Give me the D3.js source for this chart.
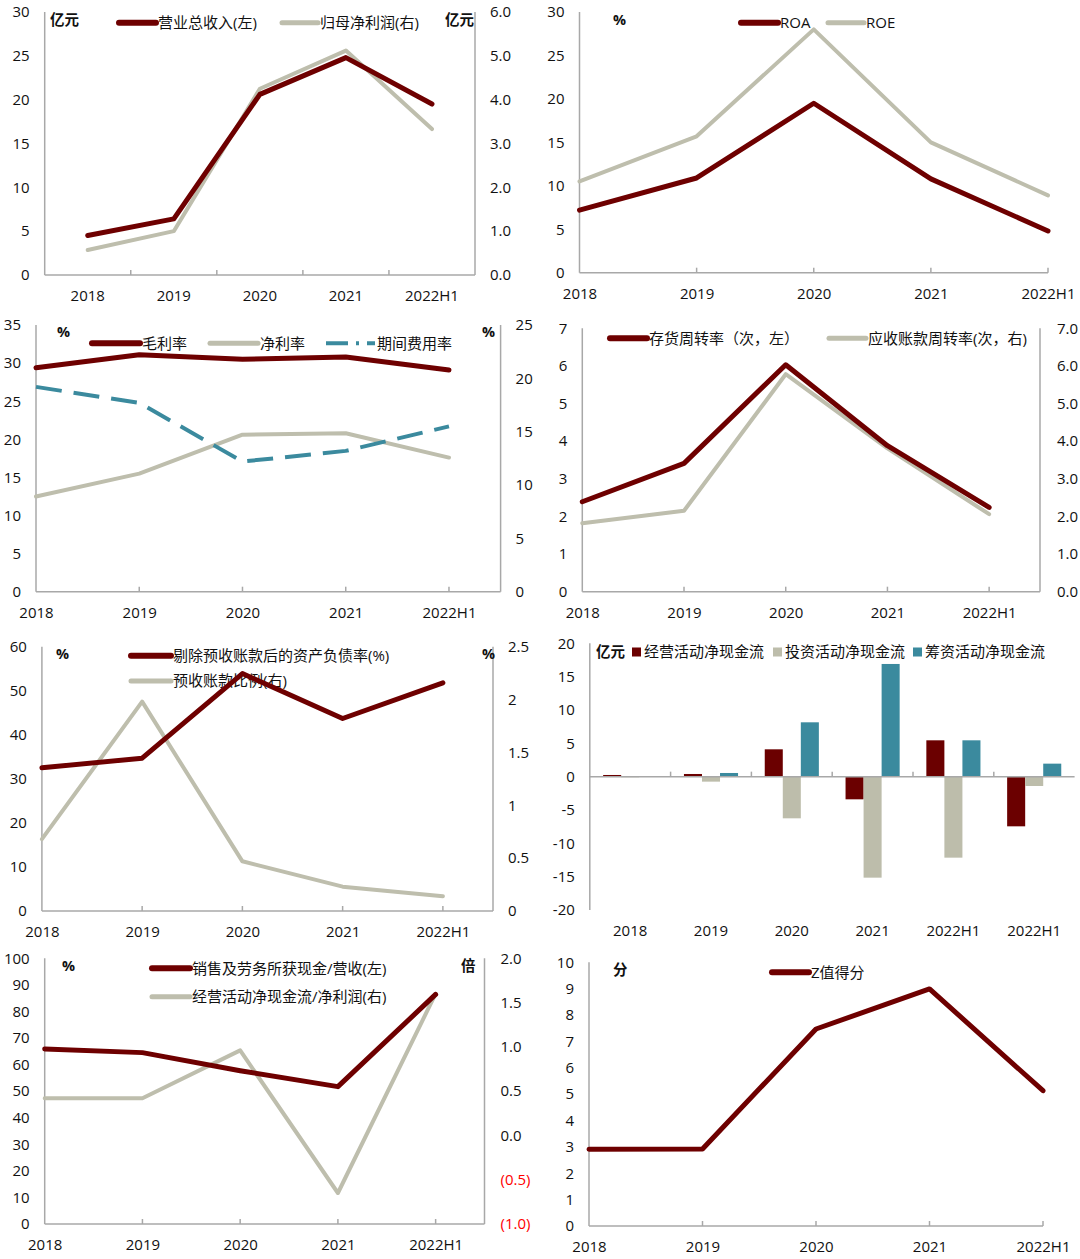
<!DOCTYPE html>
<html><head><meta charset="utf-8">
<script src="https://cdn.jsdelivr.net/npm/d3@7"></script>
<style>
body{margin:0;background:#fff;}
svg{display:block;font-family:"Open Sans","Noto Sans CJK SC",sans-serif;}
</style></head><body>
<svg id="c" width="1080" height="1259"></svg>
<script>
// ---------- data ----------
const years = ["2018","2019","2020","2021","2022H1"];
const revenue = [4.5, 6.4, 20.6, 24.8, 19.5];            // 亿元, left
const netProfitParent = [0.57, 1.0, 4.25, 5.12, 3.33];   // 亿元, right
const roa = [7.2, 10.9, 19.5, 10.8, 4.8];
const roe = [10.5, 15.7, 28.0, 15.0, 8.9];
const grossMargin = [29.4, 31.1, 30.5, 30.8, 29.1];
const netMargin = [12.5, 15.5, 20.6, 20.8, 17.6];
const expenseRatio = [19.2, 17.7, 12.2, 13.2, 15.5];     // right
const inventoryTurnover = [2.39, 3.41, 6.03, 3.88, 2.24];
const receivableTurnover = [1.82, 2.15, 5.78, 3.81, 2.06];
const debtRatioExAdv = [32.5, 34.7, 53.9, 43.7, 51.8];
const advanceRatio = [0.68, 1.98, 0.47, 0.23, 0.14];
const cfCategories = ["2018","2019","2020","2021","2022H1","2022H1"];
const operatingCF = [0.25, 0.4, 4.1, -3.4, 5.45, -7.45];
const investingCF = [-0.1, -0.75, -6.25, -15.15, -12.15, -1.4];
const financingCF = [0, 0.55, 8.15, 16.9, 5.45, 1.95];
const cashToRevenue = [65.9, 64.5, 57.7, 51.7, 86.4];
const ocfToProfit = [0.42, 0.42, 0.96, -0.65, 1.60];
const zScore = [2.91, 2.92, 7.47, 8.99, 5.13];

const ticks0to30 = [0,5,10,15,20,25,30];
const ticks0to6 = [0,1,2,3,4,5,6];
const ticks0to35 = [0,5,10,15,20,25,30,35];
const ticks0to25 = [0,5,10,15,20,25];
const ticks0to7 = [0,1,2,3,4,5,6,7];
const ticks0to60 = [0,10,20,30,40,50,60];
const ticks0to2_5 = [0,0.5,1,1.5,2,2.5];
const ticksCF = [-20,-15,-10,-5,0,5,10,15,20];
const ticks0to100 = [0,10,20,30,40,50,60,70,80,90,100];
const ticksM1to2 = [-1,-0.5,0,0.5,1,1.5,2];
const ticks0to10 = [0,1,2,3,4,5,6,7,8,9,10];

// ---------- style ----------
const RED = "#6E0000", GRAY = "#BEBEAD", TEAL = "#3B8A9E", AXIS = "#A8A8A8";
const BAR_RED = "#6B0000", BAR_GRAY = "#BDBDAB", BAR_TEAL = "#3B8A9E";
const LEG_FS = 15;
const svg = d3.select("#c");

function axisLine(g, x1, y1, x2, y2) {
  g.append("line").attr("x1",x1).attr("y1",y1).attr("x2",x2).attr("y2",y2)
    .attr("stroke",AXIS).attr("stroke-width",1.5);
}
function yAxis(g, scale, ticks, x, side, fmt, colorFn, pad) {
  const ax = (side === "left" ? d3.axisLeft(scale) : d3.axisRight(scale))
    .tickValues(ticks).tickSize(0).tickPadding(pad || 15).tickFormat(fmt || (d => d));
  const a = g.append("g").attr("transform", `translate(${x},0)`).call(ax);
  a.select(".domain").remove();
  a.attr("font-family", null).attr("font-size", 15);
  a.selectAll("text").attr("fill", d => colorFn ? colorFn(d) : "#111");
}
function xAxis(g, scale, y, fmt) {
  const ax = d3.axisBottom(scale).tickSize(0).tickFormat(fmt || (d => d));
  const a = g.append("g").attr("transform", `translate(0,${y})`).call(ax);
  a.select(".domain").remove();
  a.attr("font-family", null).attr("font-size", 15);
  a.selectAll("text").attr("y", 21).attr("dy", "0.35em").attr("fill", "#111");
}
function tickMarks(g, xs, y) {
  xs.forEach(x => g.append("line").attr("x1",x).attr("x2",x).attr("y1",y-5).attr("y2",y)
    .attr("stroke",AXIS).attr("stroke-width",1.5));
}
function drawLine(g, vals, xf, y, color, w, dash) {
  const line = d3.line().x((d,i) => xf(i)).y(d => y(d));
  const p = g.append("path").datum(vals).attr("d", line).attr("fill","none")
    .attr("stroke", color).attr("stroke-width", w).attr("stroke-linejoin","round")
    .attr("stroke-linecap", dash ? "butt" : "round");
  if (dash) p.attr("stroke-dasharray", dash);
}
function legendLine(g, x1, x2, y, color, w, label, dash) {
  const l = g.append("line").attr("x1",x1).attr("x2",x2).attr("y1",y).attr("y2",y)
    .attr("stroke",color).attr("stroke-width",w).attr("stroke-linecap", dash ? "butt" : "round");
  if (dash) l.attr("stroke-dasharray", dash);
  g.append("text").attr("x", x2+2).attr("y", y).attr("dy","0.35em")
    .attr("font-size",LEG_FS).attr("fill","#111").text(label);
}
function unitLabel(g, x, y, t, anchor) {
  g.append("text").attr("x",x).attr("y",y).attr("dy","0.35em").attr("font-size",14.5)
    .attr("font-weight","bold").attr("fill","#111").attr("text-anchor", anchor||"start").text(t);
}

// ---------- Panel 1 ----------
{
  const g = svg.append("g");
  const L = 44.7, R = 475, yL = d3.scaleLinear([0,30],[275,12]), yR = d3.scaleLinear([0,6],[275,12]);
  const xb = d3.scaleBand().domain(years).range([L,R]);
  const xf = i => xb(years[i]) + xb.bandwidth()/2;
  axisLine(g, L, 12, L, 275); axisLine(g, R, 12, R, 275); axisLine(g, L, 275, R, 275);
  tickMarks(g, years.slice(1).map(c => xb(c)), 275);
  yAxis(g, yL, ticks0to30, L, "left");
  yAxis(g, yR, ticks0to6, R, "right", d => d.toFixed(1));
  xAxis(g, xb, 275);
  unitLabel(g, 50, 20, "亿元"); unitLabel(g, 445, 20, "亿元");
  legendLine(g, 119, 156, 22.7, RED, 6, "营业总收入(左)");
  legendLine(g, 282, 318, 22.7, GRAY, 5, "归母净利润(右)");
  drawLine(g, netProfitParent, xf, yR, GRAY, 4);
  drawLine(g, revenue, xf, yL, RED, 5);
}
// ---------- Panel 2 ----------
{
  const g = svg.append("g");
  const L = 579.5, R = 1048, y = d3.scaleLinear([0,30],[272.7,12]);
  const xp = d3.scalePoint().domain(years).range([L,R]);
  const xf = i => xp(years[i]);
  axisLine(g, L, 12, L, 272.7); axisLine(g, L, 272.7, R, 272.7);
  tickMarks(g, years.slice(1).map(c => xp(c)), 272.7);
  yAxis(g, y, ticks0to30, L, "left");
  xAxis(g, xp, 272.7);
  unitLabel(g, 613, 20, "%");
  legendLine(g, 741, 778, 22.7, RED, 6, "ROA");
  legendLine(g, 828, 864, 22.7, GRAY, 5, "ROE");
  drawLine(g, roe, xf, y, GRAY, 4);
  drawLine(g, roa, xf, y, RED, 5);
}
// ---------- Panel 3 ----------
{
  const g = svg.append("g");
  const L = 36, R = 500.6, step = (R-L)/4.5;
  const yL = d3.scaleLinear([0,35],[591.7,325]), yR = d3.scaleLinear([0,25],[591.7,325]);
  const xp = d3.scalePoint().domain(years).range([L, L+4*step]);
  const xf = i => xp(years[i]);
  axisLine(g, L, 325, L, 591.7); axisLine(g, R, 325, R, 591.7); axisLine(g, L, 591.7, R, 591.7);
  tickMarks(g, years.slice(1).map(c => xp(c)), 591.7);
  yAxis(g, yL, ticks0to35, L, "left");
  yAxis(g, yR, ticks0to25, R, "right");
  xAxis(g, xp, 591.7);
  unitLabel(g, 57, 332, "%"); unitLabel(g, 482, 332, "%");
  legendLine(g, 92, 140, 343.3, RED, 6, "毛利率");
  legendLine(g, 210, 258, 343.3, GRAY, 5, "净利率");
  legendLine(g, 326, 375, 343.3, TEAL, 4, "期间费用率", "22,8,3,8");
  drawLine(g, netMargin, xf, yL, GRAY, 4);
  drawLine(g, expenseRatio, xf, yR, TEAL, 4, "26,12");
  drawLine(g, grossMargin, xf, yL, RED, 5);
}
// ---------- Panel 4 ----------
{
  const g = svg.append("g");
  const L = 582.3, R = 1040, step = (R-L)/4.5;
  const yL = d3.scaleLinear([0,7],[591.7,328.3]), yR = d3.scaleLinear([0,7],[591.7,328.3]);
  const xp = d3.scalePoint().domain(years).range([L, L+4*step]);
  const xf = i => xp(years[i]);
  axisLine(g, L, 328.3, L, 591.7); axisLine(g, R, 328.3, R, 591.7); axisLine(g, L, 591.7, R, 591.7);
  tickMarks(g, years.slice(1).map(c => xp(c)), 591.7);
  yAxis(g, yL, ticks0to7, L, "left");
  yAxis(g, yR, ticks0to7, R, "right", d => d.toFixed(1), null, 17);
  xAxis(g, xp, 591.7);
  legendLine(g, 610, 647, 338.3, RED, 6, "存货周转率（次，左）");
  legendLine(g, 829, 866, 338.3, GRAY, 5, "应收账款周转率(次，右)");
  drawLine(g, receivableTurnover, xf, yR, GRAY, 4);
  drawLine(g, inventoryTurnover, xf, yL, RED, 5);
}
// ---------- Panel 5 ----------
{
  const g = svg.append("g");
  const L = 41.9, R = 493, step = (R-L)/4.5;
  const yL = d3.scaleLinear([0,60],[911,646.7]), yR = d3.scaleLinear([0,2.5],[911,646.7]);
  const xp = d3.scalePoint().domain(years).range([L, L+4*step]);
  const xf = i => xp(years[i]);
  axisLine(g, L, 646.7, L, 911); axisLine(g, R, 646.7, R, 911); axisLine(g, L, 911, R, 911);
  tickMarks(g, years.slice(1).map(c => xp(c)), 911);
  yAxis(g, yL, ticks0to60, L, "left");
  yAxis(g, yR, ticks0to2_5, R, "right", d => String(d));
  xAxis(g, xp, 911);
  unitLabel(g, 56, 654, "%"); unitLabel(g, 482, 654, "%");
  legendLine(g, 131, 171, 655.7, RED, 6, "剔除预收账款后的资产负债率(%)");
  legendLine(g, 131, 171, 681, GRAY, 5, "预收账款比例(右)");
  drawLine(g, advanceRatio, xf, yR, GRAY, 4);
  drawLine(g, debtRatioExAdv, xf, yL, RED, 5);
}
// ---------- Panel 6 (bars) ----------
{
  const g = svg.append("g");
  const L = 589.8, R = 1074.6;
  const y = d3.scaleLinear([-20,20],[910,643.3]);
  const idx = cfCategories.map((c,i) => i);
  const xb = d3.scaleBand().domain(idx).range([L,R]);
  const series = [
    {name:"经营活动净现金流", vals: operatingCF, color: BAR_RED},
    {name:"投资活动净现金流", vals: investingCF, color: BAR_GRAY},
    {name:"筹资活动净现金流", vals: financingCF, color: BAR_TEAL}
  ];
  const xi = d3.scaleBand().domain(series.map(s => s.name)).range([0, xb.bandwidth()]).paddingInner(0).paddingOuter(0.74);
  axisLine(g, L, 643.3, L, 910);
  series.forEach(s => {
    g.selectAll(null).data(s.vals).enter().append("rect")
      .attr("x", (d,i) => xb(i) + xi(s.name))
      .attr("width", xi.bandwidth())
      .attr("y", d => y(Math.max(0,d)))
      .attr("height", d => Math.abs(y(d) - y(0)))
      .attr("fill", s.color);
  });
  axisLine(g, L, y(0), R, y(0));
  tickMarks(g, idx.slice(1).map(i => xb(i)), y(0));
  yAxis(g, y, ticksCF, L, "left");
  xAxis(g, xb, 910, i => cfCategories[i]);
  unitLabel(g, 596, 652, "亿元");
  series.forEach((s, k) => {
    const sx = [632, 773, 913][k];
    g.append("rect").attr("x", sx).attr("y", 647.5).attr("width", 9).attr("height", 9).attr("fill", s.color);
    g.append("text").attr("x", sx+12).attr("y", 652).attr("dy","0.35em").attr("font-size",LEG_FS)
      .attr("fill","#111").text(s.name);
  });
}
// ---------- Panel 7 ----------
{
  const g = svg.append("g");
  const L = 44.7, R = 484.5, step = (R-L)/4.5;
  const yL = d3.scaleLinear([0,100],[1224,958.3]), yR = d3.scaleLinear([-1,2],[1224,958.3]);
  const xp = d3.scalePoint().domain(years).range([L, L+4*step]);
  const xf = i => xp(years[i]);
  axisLine(g, L, 958.3, L, 1224); axisLine(g, R, 958.3, R, 1224); axisLine(g, L, 1224, R, 1224);
  tickMarks(g, years.slice(1).map(c => xp(c)), 1224);
  yAxis(g, yL, ticks0to100, L, "left");
  yAxis(g, yR, ticksM1to2, R, "right",
    d => d < 0 ? `(${Math.abs(d).toFixed(1)})` : d.toFixed(1),
    d => d < 0 ? "#FF0000" : "#111", 16);
  xAxis(g, xp, 1224);
  unitLabel(g, 62, 966, "%"); unitLabel(g, 461, 966, "倍");
  legendLine(g, 152, 190, 968.3, RED, 6, "销售及劳务所获现金/营收(左)");
  legendLine(g, 152, 190, 996.7, GRAY, 5, "经营活动净现金流/净利润(右)");
  drawLine(g, ocfToProfit, xf, yR, GRAY, 4);
  drawLine(g, cashToRevenue, xf, yL, RED, 5);
}
// ---------- Panel 8 ----------
{
  const g = svg.append("g");
  const L = 589, R = 1043;
  const y = d3.scaleLinear([0,10],[1226,962.3]);
  const xp = d3.scalePoint().domain(years).range([L,R]);
  const xf = i => xp(years[i]);
  axisLine(g, L, 962.3, L, 1226); axisLine(g, L, 1226, R, 1226);
  tickMarks(g, years.slice(1).map(c => xp(c)), 1226);
  yAxis(g, y, ticks0to10, L, "left");
  xAxis(g, xp, 1226);
  unitLabel(g, 613, 970, "分");
  legendLine(g, 772, 809, 972.3, RED, 6, "Z值得分");
  drawLine(g, zScore, xf, y, RED, 5);
}
</script>
</body></html>
